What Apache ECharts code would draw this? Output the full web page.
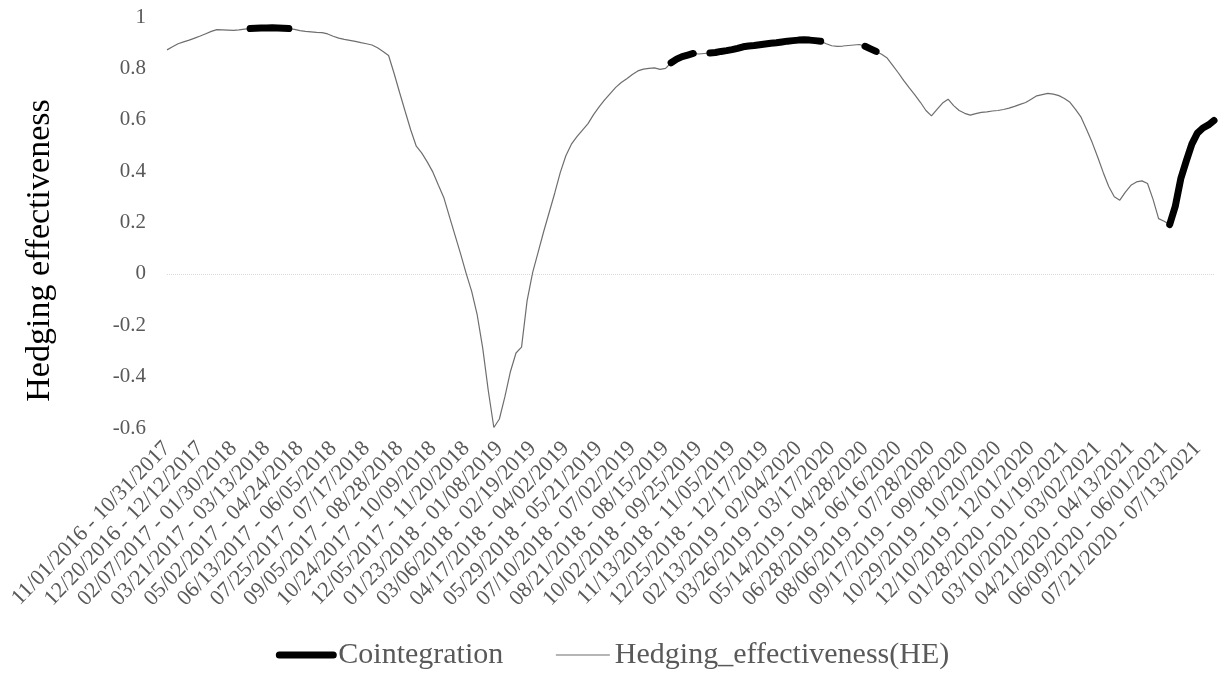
<!DOCTYPE html>
<html>
<head>
<meta charset="utf-8">
<script src="https://cdn.jsdelivr.net/npm/echarts@6/dist/echarts.min.js"></script>
<style>
html,body{margin:0;padding:0;background:#fff;}
#chart{width:1225px;height:679px;}
</style>
</head>
<body>
<div id="chart"></div>
<script>
// Tick labels (every 6th weekly window)
const tickLabels = [
  "11/01/2016 - 10/31/2017","12/20/2016 - 12/12/2017","02/07/2017 - 01/30/2018","03/21/2017 - 03/13/2018",
  "05/02/2017 - 04/24/2018","06/13/2017 - 06/05/2018","07/25/2017 - 07/17/2018","09/05/2017 - 08/28/2018",
  "10/24/2017 - 10/09/2018","12/05/2017 - 11/20/2018","01/23/2018 - 01/08/2019","03/06/2018 - 02/19/2019",
  "04/17/2018 - 04/02/2019","05/29/2018 - 05/21/2019","07/10/2018 - 07/02/2019","08/21/2018 - 08/15/2019",
  "10/02/2018 - 09/25/2019","11/13/2018 - 11/05/2019","12/25/2018 - 12/17/2019","02/13/2019 - 02/04/2020",
  "03/26/2019 - 03/17/2020","05/14/2019 - 04/28/2020","06/28/2019 - 06/16/2020","08/06/2019 - 07/28/2020",
  "09/17/2019 - 09/08/2020","10/29/2019 - 10/20/2020","12/10/2019 - 12/01/2020","01/28/2020 - 01/19/2021",
  "03/10/2020 - 03/02/2021","04/21/2020 - 04/13/2021","06/09/2020 - 06/01/2021","07/21/2020 - 07/13/2021"
];
const labelEvery = 6;

// Hedging effectiveness (HE), one value per rolling window
const heValues = [
  0.872,0.884,0.896,0.903,0.910,0.918,0.926,0.935,0.944,0.951,
  0.950,0.949,0.948,0.950,0.953,0.955,0.956,0.957,0.957,0.958,
  0.957,0.956,0.955,0.952,0.947,0.944,0.942,0.940,0.939,0.934,
  0.925,0.918,0.913,0.909,0.905,0.900,0.896,0.891,0.880,0.866,
  0.850,0.780,0.705,0.632,0.560,0.497,0.470,0.435,0.396,0.345,
  0.295,0.222,0.150,0.078,0.002,-0.068,-0.160,-0.290,-0.455,-0.598,
  -0.565,-0.478,-0.380,-0.308,-0.285,-0.105,0.005,0.085,0.165,0.240,
  0.315,0.395,0.460,0.505,0.534,0.560,0.585,0.620,0.650,0.677,
  0.702,0.726,0.745,0.760,0.776,0.790,0.797,0.800,0.802,0.796,
  0.800,0.822,0.836,0.846,0.852,0.858,0.856,0.858,0.860,0.862,
  0.866,0.869,0.873,0.878,0.884,0.887,0.889,0.892,0.895,0.898,
  0.900,0.903,0.906,0.908,0.910,0.911,0.910,0.908,0.906,0.896,
  0.888,0.886,0.887,0.889,0.891,0.893,0.886,0.876,0.866,0.855,
  0.840,0.812,0.783,0.752,0.724,0.697,0.668,0.636,0.615,0.640,
  0.665,0.680,0.655,0.636,0.625,0.618,0.624,0.629,0.631,0.634,
  0.636,0.640,0.645,0.652,0.660,0.667,0.680,0.693,0.698,0.703,
  0.700,0.694,0.683,0.668,0.640,0.610,0.562,0.512,0.455,0.395,
  0.340,0.300,0.287,0.318,0.345,0.358,0.362,0.352,0.290,0.215,
  0.205,0.192,0.262,0.370,0.440,0.505,0.548,0.568,0.580,0.597
];

// Windows with cointegration (inclusive index ranges)
const cointegrationRanges = [[15,22],[91,95],[98,118],[126,128],[181,189]];

const yTicks = [-0.6,-0.4,-0.2,0,0.2,0.4,0.6,0.8,1];

// Build category axis and cointegration series
const categories = heValues.map((v,i) => (i % labelEvery === 0 && tickLabels[i/labelEvery]) ? tickLabels[i/labelEvery] : '');
const coValues = heValues.map((v,i) => cointegrationRanges.some(r => i >= r[0] && i <= r[1]) ? v : null);

const FONT = "'Liberation Serif','Times New Roman',serif";
const chart = echarts.init(document.getElementById('chart'), null, {renderer:'canvas'});
chart.setOption({
  animation:false,
  backgroundColor:'#fff',
  grid:{left:167,right:11,top:17,bottom:251,containLabel:false},
  legend:{
    bottom:4,left:'center',
    itemWidth:54,itemHeight:14,itemGap:52,
    textStyle:{fontFamily:FONT,fontSize:30,color:'#595959'},
    itemStyle:{opacity:0},
    data:[
      {name:'Cointegration',lineStyle:{width:7,color:'#000',cap:'round'},itemStyle:{opacity:0}},
      {name:'Hedging_effectiveness(HE)',lineStyle:{width:1.2,color:'#6e6e6e'},itemStyle:{opacity:0}}
    ]
  },
  xAxis:{
    type:'category',boundaryGap:false,data:categories,
    axisLine:{show:false},axisTick:{show:false},splitLine:{show:false},
    axisLabel:{interval:labelEvery-1,rotate:46,margin:17,fontFamily:FONT,fontSize:22,color:'#595959'}
  },
  yAxis:{
    type:'value',min:yTicks[0],max:yTicks[yTicks.length-1],interval:0.2,
    axisLine:{show:false},axisTick:{show:false},splitLine:{show:false},
    axisLabel:{margin:21,fontFamily:FONT,fontSize:21,color:'#595959',
      formatter:v=>String(Math.round(v*10)/10)},
    name:'Hedging effectiveness',nameLocation:'middle',nameGap:110,
    nameTextStyle:{fontFamily:FONT,fontSize:34,color:'#000',padding:[0,56,0,0]}
  },
  series:[
    {
      name:'Cointegration',type:'line',data:coValues,symbol:'none',connectNulls:false,z:3,
      lineStyle:{color:'#000',width:7,cap:'round',join:'round'},itemStyle:{color:'#000'}
    },
    {
      name:'Hedging_effectiveness(HE)',type:'line',data:heValues,symbol:'none',z:2,
      lineStyle:{color:'#6e6e6e',width:1.2},itemStyle:{color:'#6e6e6e'},
      markLine:{silent:true,symbol:['none','none'],label:{show:false},
        lineStyle:{color:'#d9d9d9',type:'dotted',width:1},data:[{yAxis:0}]}
    }
  ]
});
</script>
</body>
</html>
